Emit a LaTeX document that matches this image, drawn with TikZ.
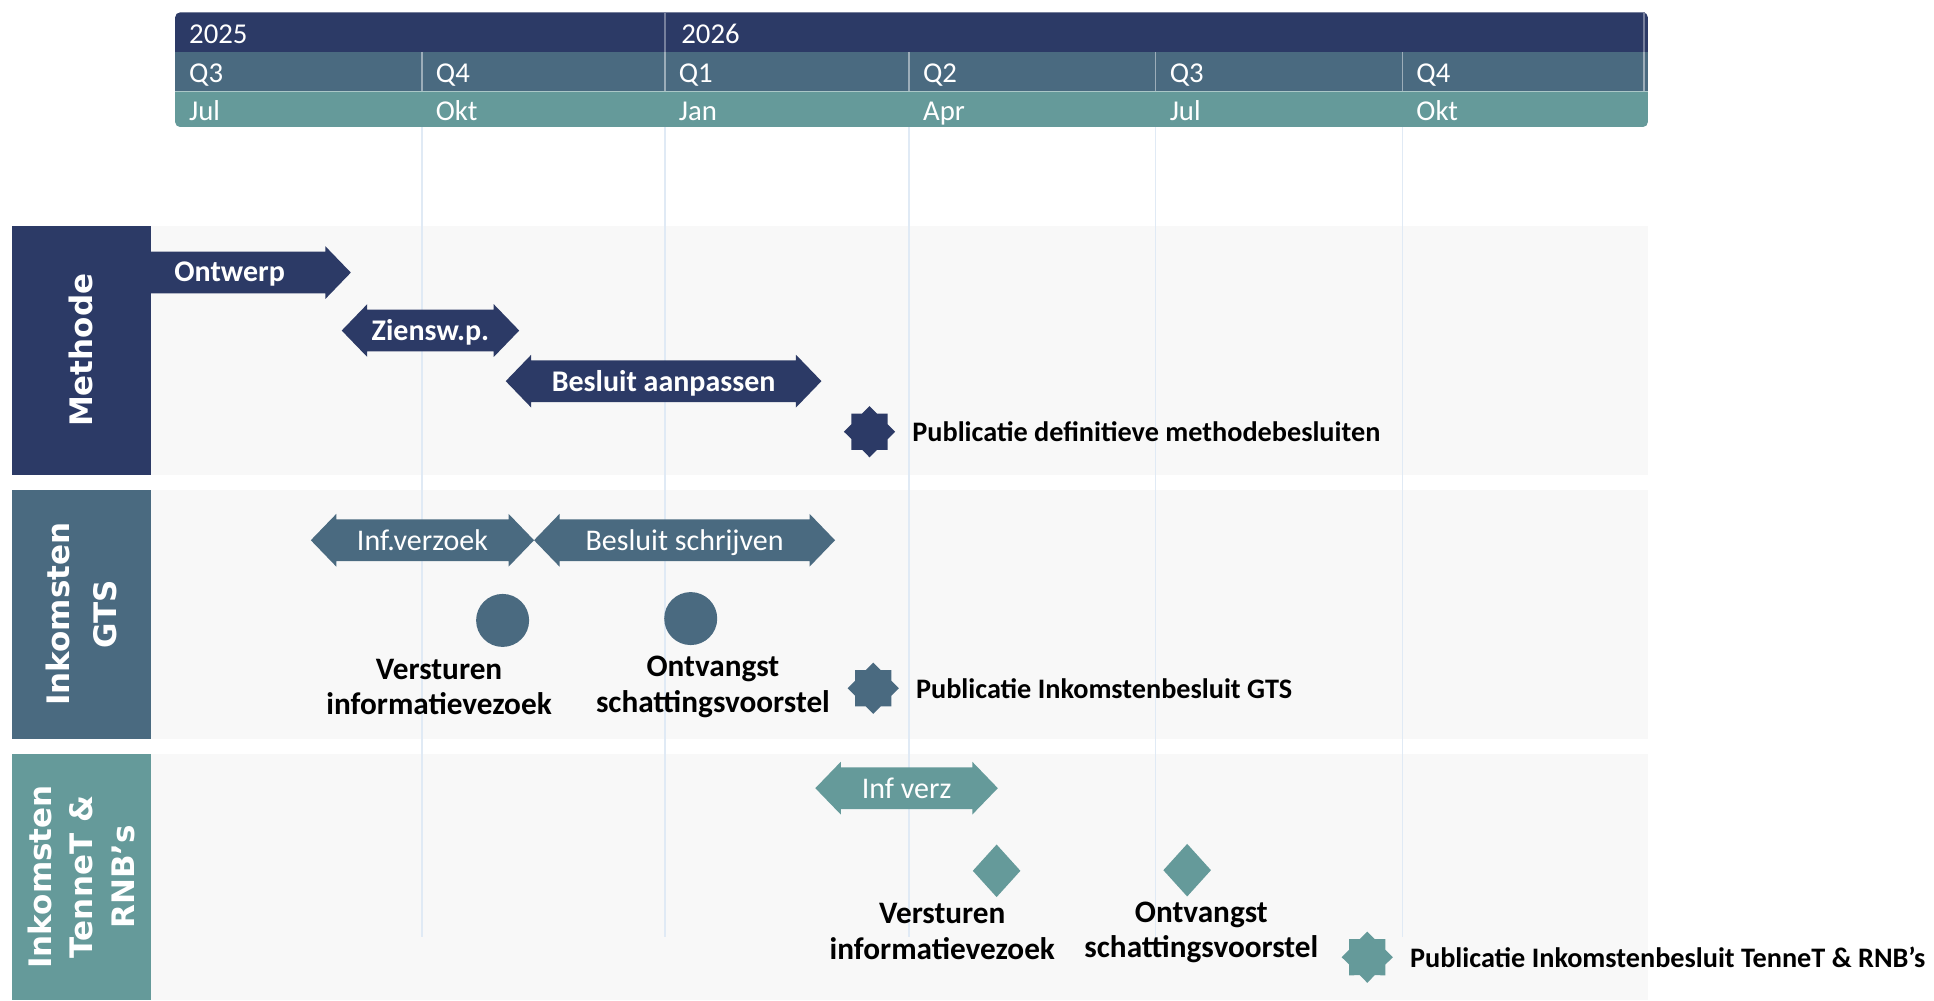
\documentclass[tikz,border=0pt]{standalone}
\usepackage{fontspec}
\setmainfont{Carlito}
\newfontfamily\lanefont{DejaVu Sans}
\usepackage{xcolor}
\usepackage{tikz}
\usetikzlibrary{positioning, shapes.geometric, shapes.arrows}

\definecolor{navy}{RGB}{44,58,102}
\definecolor{slate}{RGB}{74,106,128}
\definecolor{seagreen}{RGB}{101,154,154}
\definecolor{lanebg}{RGB}{248,248,248}
\definecolor{gridblue}{RGB}{224,234,245}

\tikzset{
    hdr/.style={anchor=base west, inner sep=0pt, text=white, font=\fontsize{11.5}{13}\selectfont},
    lanehead/.style={rectangle, fill=#1, rotate=90, minimum width=99.7pt, minimum height=55.3pt, inner sep=0pt, text=white, align=center, font=\lanefont\bfseries\fontsize{12.4}{18.5}\selectfont},
    gridline/.style={draw=gridblue, line width=0.6pt},
    phase/.style={double arrow, fill=#1, text=white, double arrow head extend=2.2pt, double arrow tip angle=92, minimum width=20.7pt, inner xsep=2pt, inner ysep=2.55pt, text height=9.6pt, text depth=1.6pt, font=\fontsize{12}{14}\selectfont},
    boldphase/.style={phase=#1, font=\bfseries\fontsize{12}{14}\selectfont},
    firstphase/.style={single arrow, fill=#1, single arrow head extend=2.2pt, single arrow tip angle=92, minimum width=20.7pt, inner xsep=2pt, inner ysep=2.55pt, text height=9.6pt, text depth=1.6pt},
    phasetext/.style={anchor=base west, inner sep=0pt, text=white, font=\bfseries\fontsize{12}{14}\selectfont},
    star8/.style={star, star points=8, star point ratio=1.31, fill=#1, minimum size=20.5pt, inner sep=0pt},
    circms/.style={circle, fill=#1, minimum size=21.2pt, inner sep=0pt},
    gem/.style={diamond, fill=#1, minimum width=19.2pt, minimum height=21.2pt, inner sep=0pt},
    pubtext/.style={inner sep=0pt, font=\bfseries\fontsize{11.3}{13}\selectfont},
    mstext/.style={inner sep=0pt, align=center, font=\bfseries\fontsize{12.5}{14.3}\selectfont}
}

\begin{document}
\begin{tikzpicture}[x=0.4934pt, y=-0.4934pt]
    \useasboundingbox (0,0) rectangle (1568,811);

    % Lanes
    \fill[lanebg] (122,183) rectangle (1336,385);
    \fill[lanebg] (122,397) rectangle (1336,599);
    \fill[lanebg] (122,611) rectangle (1336,811);
    \node[lanehead=navy] (methode) at (66,284) {Methode};
    \node[lanehead=slate] (gts) at (66,498) {Inkomsten\\GTS};
    \node[lanehead=seagreen, minimum width=98.7pt, font=\lanefont\bfseries\fontsize{12.4}{16.5}\selectfont] (tennet) at (66,711) {Inkomsten\\TenneT \&\\RNB’s};

    % Grid
    \foreach \gx in {342,539,737,937,1137}
        \draw[gridline] (\gx,103) -- (\gx,760);

    % Header
    \begin{scope}
        \clip[rounded corners=2pt] (142,10) rectangle (1336,103);
        \fill[navy] (142,10) rectangle (1336,42);
        \fill[slate] (142,42) rectangle (1336,74);
        \fill[seagreen] (142,74) rectangle (1336,103);
    \end{scope}
    \draw[navy!65!white, line width=0.6pt] (539,10) -- (539,42) (1333,10) -- (1333,42);
    \foreach \qx in {342,539,737,937,1137,1333}
        \draw[slate!55!white, line width=0.6pt] (\qx,42) -- (\qx,74);
    \draw[seagreen!55!white, line width=0.6pt] (142,74) -- (1336,74);

    \node[hdr] (y25) at (153,35) {2025};
    \node[hdr] (y26) at (552,35) {2026};
    \node[hdr] (q3a) at (153,67) {Q3};
    \node[hdr] (q4a) at (353,67) {Q4};
    \node[hdr] (q1b) at (550,67) {Q1};
    \node[hdr] (q2b) at (748,67) {Q2};
    \node[hdr] (q3b) at (948,67) {Q3};
    \node[hdr] (q4b) at (1148,67) {Q4};
    \node[hdr] (jula) at (153,98) {Jul};
    \node[hdr] (okta) at (353,98) {Okt};
    \node[hdr] (janb) at (550,98) {Jan};
    \node[hdr] (aprb) at (748,98) {Apr};
    \node[hdr] (julb) at (948,98) {Jul};
    \node[hdr] (oktb) at (1148,98) {Okt};

    % Methode
    \node[firstphase=navy, minimum height=80.4pt, anchor=tip] (ontwerp) at (285,221) {};
    \node[phasetext] (ontwerptxt) at (141,228) {Ontwerp};
    \node[boldphase=navy, minimum height=71pt] (zienswijze) at (349,268) {Ziensw.p.};
    \node[boldphase=navy, minimum height=126.3pt] (aanpassen) at (538,309) {Besluit aanpassen};
    \node[star8=navy] (pubmeth) at (705,350) {};
    \node[pubtext, right=6.4pt of pubmeth] (pubmethtxt) {Publicatie definitieve methodebesluiten};

    % Inkomsten GTS
    \node[phase=slate, minimum height=89.3pt] (infverzoek) at (342.5,438) {Inf.verzoek};
    \node[phase=slate, minimum height=120.4pt] (schrijven) at (555,438) {Besluit schrijven};
    \node[circms=slate] (verstuurgts) at (407.5,503) {};
    \node[circms=slate] (ontvanggts) at (560,501.5) {};
    \node[mstext] (verstuurgtstxt) at (356,557) {Versturen\\informatievezoek};
    \node[mstext] (ontvanggtstxt) at (578,557) {Ontvangst\\schattingsvoorstel};
    \node[star8=slate] (pubgts) at (708,558) {};
    \node[pubtext, right=6.4pt of pubgts] (pubgtstxt) {Publicatie Inkomstenbesluit GTS};

    % Inkomsten TenneT & RNB's
    \node[phase=seagreen, minimum height=73pt] (infverz) at (735,639) {Inf verz};
    \node[gem=seagreen] (verstuurrnb) at (808,706) {};
    \node[gem=seagreen] (ontvangrnb) at (962.5,705.5) {};
    \node[mstext] (verstuurrnbtxt) at (764,755) {Versturen\\informatievezoek};
    \node[mstext] (ontvangrnbtxt) at (974,756) {Ontvangst\\schattingsvoorstel};
    \node[star8=seagreen] (pubrnb) at (1108.5,776) {};
    \node[pubtext, right=6.4pt of pubrnb] (pubrnbtxt) {Publicatie Inkomstenbesluit TenneT \& RNB’s};
\end{tikzpicture}
\end{document}
